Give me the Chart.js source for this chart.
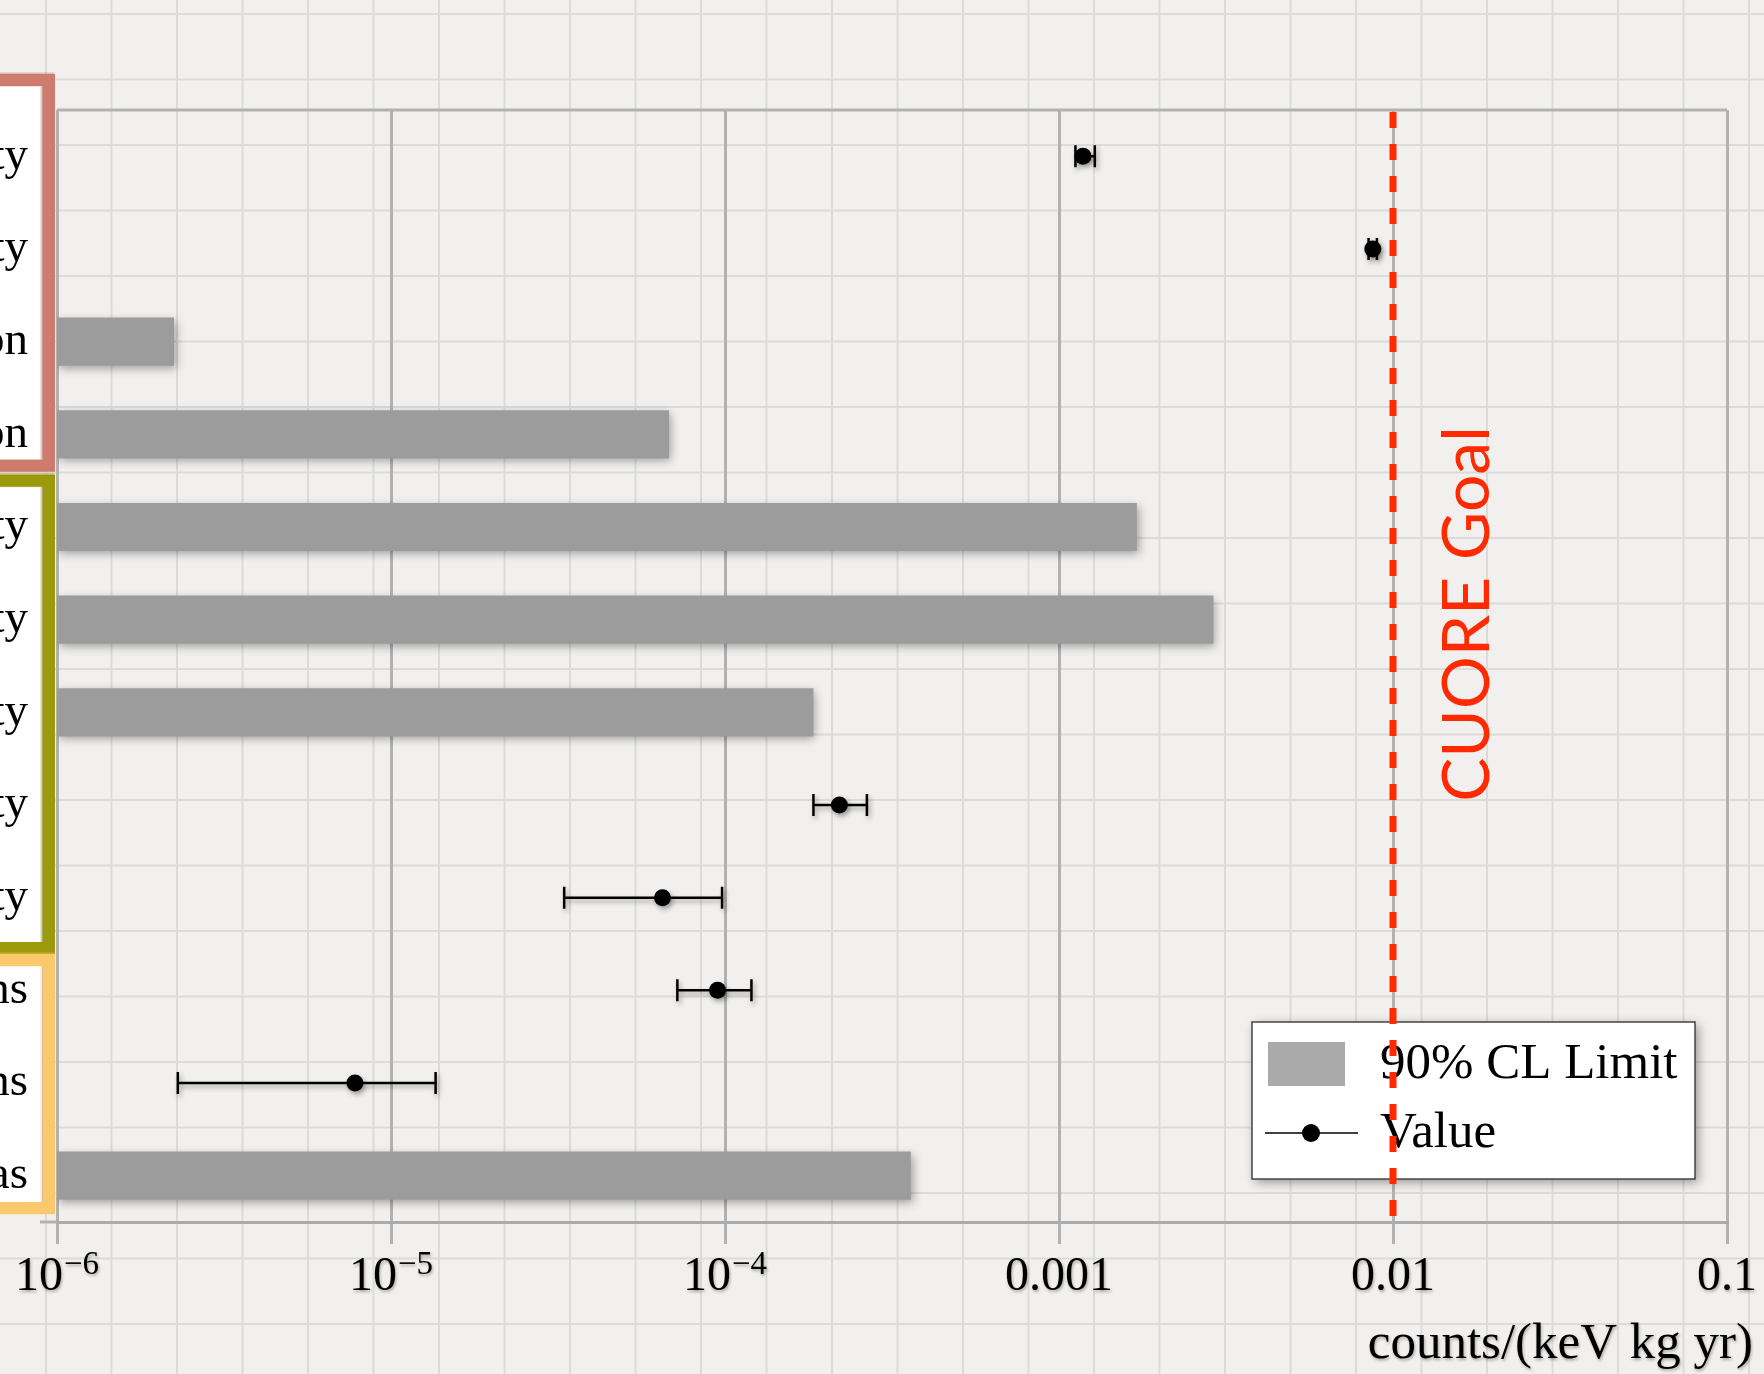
<!DOCTYPE html>
<html lang="en">
<head>
<meta charset="UTF-8" />
<title>Background contributions vs CUORE goal</title>
<script src="https://cdn.jsdelivr.net/npm/chart.js"></script>
<style>
  html, body { margin: 0; padding: 0; background: #f0efed; }
  .wrap { width: 1764px; height: 1374px; position: relative; }
</style>
</head>
<body>
<div class="wrap"><canvas id="chart"></canvas></div>
<script>
// row labels (only the visible ends of the original names)
const categories = ['ty', 'ty', 'on', 'on', 'ty', 'ty', 'ty', 'ty', 'ty', 'ns', 'ns', 'as'];
// 90% CL upper limits, counts/(keV kg yr)
const limits = [null, null, 2.24e-6, 6.8e-5, 1.71e-3, 2.9e-3, 1.84e-4, null, null, null, null, 3.6e-4];
// measured values and their error ranges
const values     = [1.18e-3, 8.7e-3,  null, null, null, null, null, 2.2e-4,  6.5e-5, 9.5e-5, 7.8e-6,  null];
const valuesLow  = [1.12e-3, 8.45e-3, null, null, null, null, null, 1.84e-4, 3.3e-5, 7.2e-5, 2.3e-6,  null];
const valuesHigh = [1.28e-3, 8.95e-3, null, null, null, null, null, 2.66e-4, 9.8e-5, 1.2e-4, 1.36e-5, null];
const goal = 0.01;
const goalLabel = 'CUORE Goal';
const xTicks = [1e-6, 1e-5, 1e-4, 1e-3, 1e-2, 1e-1];
const xTickLabels = ['10^\u22126', '10^\u22125', '10^\u22124', '0.001', '0.01', '0.1'];
const xTitle = 'counts/(keV kg yr)';

// coloured boxes round the row labels
const groups = [
  { from: 0, to: 3,  color: '#cf7b6d', top: -30, bottom: -15 },
  { from: 4, to: 8,  color: '#9c9a0c', top: 0,   bottom: 4 },
  { from: 9, to: 11, color: '#fbc96c', top: 16,  bottom: -14 }
];

const serif = '"Liberation Serif", "Times New Roman", serif';

// graph paper background, label boxes, top frame
const paper = {
  id: 'paper',
  beforeDraw(chart) {
    const { ctx, width, height, chartArea } = chart;
    ctx.save();
    ctx.fillStyle = '#f1f0ee';
    ctx.fillRect(0, 0, width, height);
    ctx.strokeStyle = '#dcdbd8';
    ctx.lineWidth = 2;
    for (let x = 46; x < width; x += 65.5) {
      ctx.beginPath(); ctx.moveTo(x, 0); ctx.lineTo(x, height); ctx.stroke();
    }
    for (let y = 14; y < height; y += 65.5) {
      ctx.beginPath(); ctx.moveTo(0, y); ctx.lineTo(width, y); ctx.stroke();
    }

    // top frame line of the plot
    ctx.strokeStyle = '#b2b2b2';
    ctx.lineWidth = 3;
    ctx.beginPath();
    ctx.moveTo(chartArea.left, chartArea.top);
    ctx.lineTo(chartArea.right, chartArea.top);
    ctx.stroke();
    // axis line stub to the left
    ctx.beginPath();
    ctx.moveTo(40, chartArea.bottom);
    ctx.lineTo(chartArea.left, chartArea.bottom);
    ctx.stroke();

    const ys = chart.scales.y;
    const step = ys.getPixelForValue(1) - ys.getPixelForValue(0);
    groups.forEach(g => {
      const T = ys.getPixelForValue(g.from) - step / 2 + g.top;
      const B = ys.getPixelForValue(g.to) + step / 2 + g.bottom;
      // white label box with a soft edge
      ctx.fillStyle = 'rgba(120,120,120,0.45)';
      ctx.fillRect(0, T + 6, 46, B - T - 12);
      ctx.fillStyle = '#ffffff';
      ctx.fillRect(0, T + 6, 42, B - T - 12);
      // sketchy frame
      ctx.strokeStyle = g.color;
      ctx.lineWidth = 12;
      ctx.strokeRect(-20, T, 69, B - T);
      ctx.globalAlpha = 0.45;
      ctx.lineWidth = 3;
      ctx.strokeRect(-20, T - 6, 73, B - T + 11);
      ctx.strokeRect(-20, T + 5, 62, B - T - 9);
      ctx.globalAlpha = 1;
    });
    ctx.restore();
  }
};

// shadows for bars/points and error bars behind the points
const marks = {
  id: 'marks',
  beforeDatasetDraw(chart, args) {
    const { ctx } = chart;
    ctx.save();
    ctx.shadowColor = 'rgba(0,0,0,0.35)';
    ctx.shadowBlur = args.index === 0 ? 9 : 5;
    ctx.shadowOffsetX = 2;
    ctx.shadowOffsetY = 3;
    if (args.index === 1) {
      const xs = chart.scales.x, ys = chart.scales.y;
      ctx.strokeStyle = '#000';
      ctx.lineWidth = 2.5;
      values.forEach((v, i) => {
        if (v === null) return;
        const y = ys.getPixelForValue(i);
        const x1 = xs.getPixelForValue(valuesLow[i]);
        const x2 = xs.getPixelForValue(valuesHigh[i]);
        ctx.beginPath();
        ctx.moveTo(x1, y); ctx.lineTo(x2, y);
        ctx.moveTo(x1, y - 11); ctx.lineTo(x1, y + 11);
        ctx.moveTo(x2, y - 11); ctx.lineTo(x2, y + 11);
        ctx.stroke();
      });
    }
  },
  afterDatasetDraw(chart) {
    chart.ctx.restore();
  }
};

// tick labels, axis title, legend, goal line
const overlay = {
  id: 'overlay',
  afterDraw(chart) {
    const { ctx, chartArea } = chart;
    const xs = chart.scales.x;
    ctx.save();
    ctx.shadowColor = 'rgba(0,0,0,0.3)';
    ctx.shadowBlur = 3;
    ctx.shadowOffsetX = 1;
    ctx.shadowOffsetY = 2;
    ctx.fillStyle = '#000';
    ctx.textBaseline = 'alphabetic';
    ctx.textAlign = 'left';
    const baseY = xs.top + 68;
    xs.ticks.forEach((t, i) => {
      const [base, exp] = xTickLabels[i].split('^');
      ctx.font = '48px ' + serif;
      const wb = ctx.measureText(base).width;
      ctx.font = '33px ' + serif;
      const we = exp ? ctx.measureText(exp).width + 1 : 0;
      const x0 = xs.getPixelForValue(t.value) - (wb + we) / 2;
      ctx.font = '48px ' + serif;
      ctx.fillText(base, x0, baseY);
      if (exp) {
        ctx.font = '33px ' + serif;
        ctx.fillText(exp, x0 + wb + 1, baseY - 16);
      }
    });
    ctx.font = '51px ' + serif;
    ctx.textAlign = 'right';
    ctx.fillText(xTitle, 1753, 1358);
    ctx.restore();

    // legend
    const L = { x: 1252, y: 1022, w: 443, h: 157 };
    ctx.save();
    ctx.shadowColor = 'rgba(0,0,0,0.4)';
    ctx.shadowBlur = 10;
    ctx.shadowOffsetX = 3;
    ctx.shadowOffsetY = 3;
    ctx.fillStyle = '#ffffff';
    ctx.fillRect(L.x, L.y, L.w, L.h);
    ctx.restore();
    ctx.save();
    ctx.strokeStyle = '#444';
    ctx.lineWidth = 1.5;
    ctx.strokeRect(L.x, L.y, L.w, L.h);
    const ds = chart.data.datasets;
    ctx.fillStyle = '#aaaaaa';
    ctx.fillRect(L.x + 16, L.y + 20, 77, 44);
    ctx.strokeStyle = '#000';
    ctx.lineWidth = 1.5;
    ctx.beginPath();
    ctx.moveTo(L.x + 13, L.y + 111); ctx.lineTo(L.x + 106, L.y + 111);
    ctx.stroke();
    ctx.fillStyle = '#000';
    ctx.beginPath();
    ctx.arc(L.x + 59, L.y + 111, 9, 0, Math.PI * 2);
    ctx.fill();
    ctx.font = '51px ' + serif;
    ctx.textAlign = 'left';
    ctx.textBaseline = 'middle';
    ctx.fillText(ds[0].label, L.x + 128, L.y + 43);
    ctx.fillText(ds[1].label, L.x + 128, L.y + 112);
    ctx.restore();

    // goal line and its label
    const gx = xs.getPixelForValue(goal);
    ctx.save();
    ctx.strokeStyle = '#ff2a00';
    ctx.lineWidth = 7;
    ctx.setLineDash([16, 16]);
    ctx.beginPath();
    ctx.moveTo(gx, chartArea.top + 2);
    ctx.lineTo(gx, chartArea.bottom);
    ctx.stroke();
    ctx.setLineDash([]);
    ctx.translate(gx + 75, 614);
    ctx.rotate(-Math.PI / 2);
    ctx.fillStyle = '#ff2a00';
    ctx.font = '66px Lato, "Open Sans", sans-serif';
    ctx.textAlign = 'center';
    ctx.textBaseline = 'middle';
    ctx.fillText(goalLabel, 0, 0);
    ctx.restore();
  }
};

new Chart(document.getElementById('chart'), {
  data: {
    labels: categories,
    datasets: [
      {
        type: 'bar',
        label: '90% CL Limit',
        data: limits,
        backgroundColor: '#9c9c9c',
        categoryPercentage: 1,
        barPercentage: 0.52,
        order: 1
      },
      {
        type: 'line',
        label: 'Value',
        data: values,
        showLine: false,
        pointRadius: 8.5,
        pointHoverRadius: 8.5,
        pointBackgroundColor: '#000',
        pointBorderWidth: 0,
        order: 0
      }
    ]
  },
  options: {
    indexAxis: 'y',
    responsive: true,
    maintainAspectRatio: false,
    animation: false,
    layout: { padding: { top: 110, right: 37, left: 0, bottom: 0 } },
    plugins: { legend: { display: false }, tooltip: { enabled: false } },
    scales: {
      x: {
        type: 'logarithmic',
        min: xTicks[0],
        max: xTicks[xTicks.length - 1],
        afterBuildTicks: s => { s.ticks = xTicks.map(v => ({ value: v })); },
        afterFit: s => { s.height = 152; },
        grid: { color: '#b2b2b2', lineWidth: 3, drawTicks: true, tickLength: 22, tickColor: '#b2b2b2' },
        border: { display: true, color: '#ababab', width: 3 },
        ticks: { display: false }
      },
      y: {
        afterFit: s => { s.width = 57; },
        grid: { display: false, drawTicks: false },
        border: { display: false },
        ticks: { color: '#000', padding: 29, font: { family: serif, size: 47 } }
      }
    }
  },
  plugins: [paper, marks, overlay]
});
</script>
</body>
</html>
